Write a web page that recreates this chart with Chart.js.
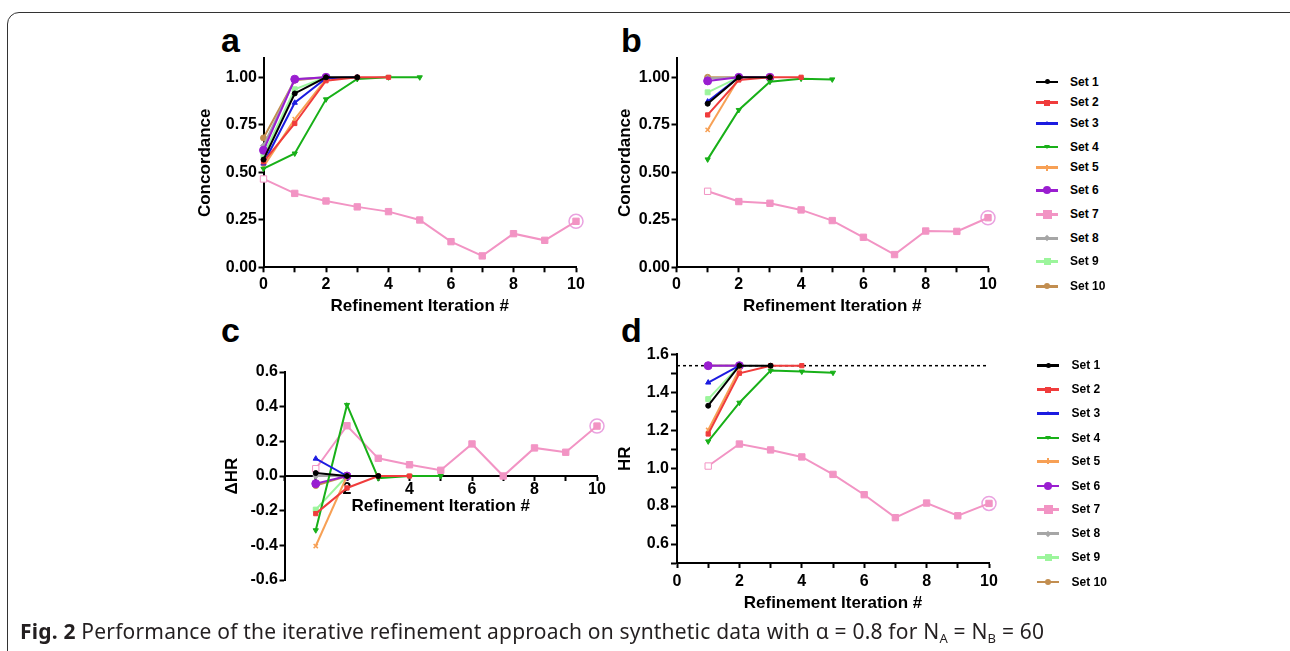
<!DOCTYPE html>
<html>
<head>
<meta charset="utf-8">
<script src="https://cdn.jsdelivr.net/npm/chart.js@4.4.1/dist/chart.umd.min.js"></script>
<style>
  body { margin: 0; background: #fff; width: 1290px; height: 651px; overflow: hidden; position: relative; font-family: "Liberation Sans", Arial, sans-serif; }
  .frame { position: absolute; left: 7px; top: 12px; width: 1300px; height: 700px; border: 1.5px solid #333; border-radius: 12px; box-sizing: border-box; }
  canvas { position: absolute; }
  .lbl { position: absolute; font: bold 34px "Liberation Sans", Arial, sans-serif; line-height: 34px; color: #000; }
  .item { position: absolute; height: 14px; width: 120px; font: bold 12px "Liberation Sans", Arial, sans-serif; color: #000; }
  .item .ln { position: absolute; left: 0; top: 6px; width: 22px; height: 2.5px; }
  .item .mk { position: absolute; }
  .item .tx { position: absolute; top: 0; line-height: 14px; white-space: nowrap; }
  .caption { position: absolute; left: 20px; top: 617px; font: 21px "Noto Sans", sans-serif; letter-spacing: 0.2px; color: #231f20; white-space: nowrap; }
  .caption b { font-weight: bold; }
  .caption sub { font-size: 13px; vertical-align: -4px; line-height: 0; }
</style>
</head>
<body>
<div class="frame"></div>
<div class="lbl" style="left:221px;top:23px">a</div>
<div class="lbl" style="left:621px;top:23px">b</div>
<div class="lbl" style="left:221px;top:313px">c</div>
<div class="lbl" style="left:621px;top:313px">d</div>
<canvas id="chartA" width="420" height="300" style="left:190px;top:30px"></canvas>
<canvas id="chartB" width="420" height="300" style="left:600px;top:30px"></canvas>
<canvas id="chartC" width="420" height="280" style="left:200px;top:320px"></canvas>
<canvas id="chartD" width="420" height="300" style="left:600px;top:320px"></canvas>
<div id="legendTop"></div>
<div id="legendBottom"></div>
<div class="caption"><b>Fig. 2</b> Performance of the iterative refinement approach on synthetic data with α = 0.8 for N<sub>A</sub> = N<sub>B</sub> = 60</div>

<script>
// categories
const setNames = ['Set 1', 'Set 2', 'Set 3', 'Set 4', 'Set 5', 'Set 6', 'Set 7', 'Set 8', 'Set 9', 'Set 10'];

// a: concordance, iterations start at 0
const concA = [
    [0.567, 0.915, 1.0, 1.0],
    [0.555, 0.757, 0.982, 1.0, 1.0],
    [0.546, 0.866, 0.995, 1.0],
    [0.519, 0.599, 0.884, 0.991, 1.0, 1.0],
    [0.53, 0.78, 0.99],
    [0.616, 0.99, 1.0],
    [0.465, 0.389, 0.349, 0.318, 0.293, 0.249, 0.135, 0.06, 0.177, 0.142, 0.242],
    [0.64, 0.99, 1.0],
    [0.59, 0.937, 1.0],
    [0.681, 0.985, 1.0]
];

// b: concordance, iterations start at 1
const concB = [
    [0.861, 1.0, 1.0],
    [0.802, 0.986, 1.0, 1.0],
    [0.872, 1.0],
    [0.568, 0.828, 0.977, 0.993, 0.989],
    [0.723, 0.995],
    [0.981, 1.0, 1.0],
    [0.40, 0.346, 0.337, 0.302, 0.246, 0.158, 0.067, 0.191, 0.189, 0.261],
    [0.995, 1.0],
    [0.921, 1.0],
    [1.0, 1.0]
];

// c: delta HR, iterations start at 1
const deltaHR = [
    [0.017, 0.0, 0.0],
    [-0.217, -0.069, 0.0, 0.0],
    [0.10, 0.0],
    [-0.313, 0.41, -0.013, 0.0, 0.0],
    [-0.404, 0.0],
    [-0.044, 0.0],
    [0.042, 0.29, 0.102, 0.065, 0.033, 0.185, 0.0, 0.162, 0.137, 0.288],
    [0.0, 0.0],
    [-0.194, 0.0],
    [-0.055, 0.0]
];

// d: HR, iterations start at 1
const hazard = [
    [1.329, 1.54, 1.54],
    [1.18, 1.50, 1.54, 1.54],
    [1.451, 1.54],
    [1.141, 1.345, 1.514, 1.509, 1.503],
    [1.201, 1.52],
    [1.54, 1.54],
    [1.011, 1.127, 1.096, 1.059, 0.967, 0.86, 0.739, 0.816, 0.749, 0.814],
    [1.54, 1.54],
    [1.364, 1.54],
    [1.54, 1.54]
];
const trueHR = 1.54;

// tick labels
const concTicks = [0, 0.25, 0.5, 0.75, 1.0];
const dHRTicks = [-0.6, -0.4, -0.2, 0.0, 0.2, 0.4, 0.6];
const hrTicks = [0.5, 0.6, 0.7, 0.8, 0.9, 1.0, 1.1, 1.2, 1.3, 1.4, 1.5, 1.6];
const iterTicks = [0, 1, 2, 3, 4, 5, 6, 7, 8, 9, 10];

// styles
const colors = ['#000000', '#f03c3c', '#1c1ce0', '#18b018', '#f7a055', '#9a1ed0', '#f294c4', '#a6a6a6', '#9cf59c', '#c28e50'];
const markers = ['circle', 'rect', 'triangle', 'triangle', 'crossRot', 'circle', 'rect', 'rectRot', 'rect', 'circle'];
const radii = [2.5, 3, 3, 3, 3, 4, 4.5, 3, 3.5, 3];
const rotations = [0, 0, 0, 180, 0, 0, 0, 0, 0, 0];

const FONT = 'Liberation Sans, Arial, sans-serif';

function buildSets(vals, start) {
    const ds = vals.map((arr, k) => ({
        label: setNames[k],
        data: arr.map((v, i) => ({ x: start + i, y: v })),
        borderColor: colors[k],
        backgroundColor: colors[k],
        borderWidth: 2,
        pointStyle: markers[k],
        pointRadius: radii[k],
        pointRotation: rotations[k],
        pointBorderWidth: k === 4 ? 1.5 : 1,
        pointBackgroundColor: k === 6 ? (c => c.dataIndex === 0 ? '#ffffff' : colors[6]) : colors[k],
        tension: 0,
        clip: false
    }));
    // ring round the last Set 7 point
    const s7 = vals[6];
    ds.push({
        label: 'ring',
        data: [{ x: start + s7.length - 1, y: s7[s7.length - 1] }],
        showLine: false,
        pointStyle: 'circle',
        pointRadius: 7,
        pointBorderWidth: 1.5,
        pointBorderColor: '#eaa2e0',
        pointBackgroundColor: 'rgba(0,0,0,0)',
        clip: false
    });
    return ds;
}

function axis(extra) {
    const base = {
        type: 'linear',
        grid: { display: true, drawOnChartArea: false, drawTicks: true, tickLength: 5, tickWidth: 2, tickColor: '#000' },
        border: { display: true, color: '#000', width: 2 },
        ticks: { color: '#000', font: { family: FONT, size: 16, weight: 'bold' }, padding: 3, autoSkip: false, maxRotation: 0 },
        title: { display: true, color: '#000', font: { family: FONT, size: 17, weight: 'bold' } }
    };
    const out = Object.assign({}, base, extra);
    out.grid = Object.assign({}, base.grid, extra.grid || {});
    out.ticks = Object.assign({}, base.ticks, extra.ticks || {});
    out.title = Object.assign({}, base.title, extra.title || {});
    return out;
}

function iterAxis(opts) {
    return axis(Object.assign({
        min: 0, max: 10,
        afterBuildTicks: s => { s.ticks = iterTicks.map(v => ({ value: v })); },
        ticks: Object.assign({ callback: v => (v % 2 === 0 ? String(v) : '') }, opts.ticks || {}),
        title: Object.assign({ text: 'Refinement Iteration #' }, opts.title || {})
    }, opts.rest || {}));
}

function makeChart(id, datasets, scales, padding) {
    return new Chart(document.getElementById(id), {
        type: 'line',
        data: { datasets: datasets },
        options: {
            responsive: false,
            animation: false,
            layout: { padding: padding },
            plugins: { legend: { display: false }, tooltip: { enabled: false } },
            scales: scales
        }
    });
}

// a
makeChart('chartA', buildSets(concA, 0), {
    x: iterAxis({ title: { padding: { top: 0, bottom: 13.3 } }, rest: { afterFit: s => { s.height = 62.7; } } }),
    y: axis({
        min: 0, max: 1.1,
        afterBuildTicks: s => { s.ticks = concTicks.map(v => ({ value: v })); },
        afterFit: s => { s.width = 73.5; },
        ticks: { callback: v => v.toFixed(2), padding: 1.5 },
        title: { text: 'Concordance', padding: { top: 5.5, bottom: 0 } }
    })
}, { left: 0, right: 34, top: 28.3, bottom: 0 });

// b
makeChart('chartB', buildSets(concB, 1), {
    x: iterAxis({ title: { padding: { top: 0, bottom: 13.3 } }, rest: { afterFit: s => { s.height = 62.7; } } }),
    y: axis({
        min: 0, max: 1.1,
        afterBuildTicks: s => { s.ticks = concTicks.map(v => ({ value: v })); },
        afterFit: s => { s.width = 76.5; },
        ticks: { callback: v => v.toFixed(2), padding: 1.5 },
        title: { text: 'Concordance', padding: { top: 14.8, bottom: 0 } }
    })
}, { left: 0, right: 32, top: 28.3, bottom: 0 });

// c
makeChart('chartC', buildSets(deltaHR, 1), {
    x: iterAxis({
        ticks: { callback: v => (v > 0 && v % 2 === 0 ? String(v) : ''), padding: 0 },
        title: { padding: { top: 0, bottom: 4 } },
        rest: { position: { y: 0 }, grid: { display: true, drawOnChartArea: false, drawTicks: true, tickLength: 4, tickWidth: 2, tickColor: '#000' }, afterFit: s => { s.height = 45; } }
    }),
    y: axis({
        min: -0.6, max: 0.6,
        afterBuildTicks: s => { s.ticks = dHRTicks.map(v => ({ value: v })); },
        afterFit: s => { s.width = 84.5; },
        ticks: { callback: v => v.toFixed(1), padding: 1.5 },
        title: { text: 'ΔHR', padding: { top: 22.3, bottom: 0 } }
    })
}, { left: 0, right: 23, top: 52, bottom: 20 });

// d
const dSets = buildSets(hazard, 1);
dSets.push({
    label: 'true HR',
    data: [{ x: 0, y: trueHR }, { x: 10, y: trueHR }],
    borderColor: '#000',
    borderWidth: 1.5,
    borderDash: [3, 3],
    pointRadius: 0,
    order: 1,
    clip: false
});
makeChart('chartD', dSets, {
    x: iterAxis({ ticks: { padding: 4 }, title: { padding: { top: 0, bottom: 6.5 } }, rest: { afterFit: s => { s.height = 57; } } }),
    y: axis({
        min: 0.5, max: 1.6,
        afterBuildTicks: s => { s.ticks = hrTicks.map(v => ({ value: v })); },
        afterFit: s => { s.width = 77; },
        grid: { tickLength: 6 },
        ticks: { callback: v => (Math.round(v * 10) % 2 === 0 && v > 0.55 ? v.toFixed(1) : ''), padding: 2 },
        title: { text: 'HR', padding: { top: 14.8, bottom: 0 } }
    })
}, { left: 0, right: 31, top: 34.3, bottom: 0 });

// legends
function markerHtml(k) {
    const c = colors[k], r = radii[k];
    const d = 2 * r;
    const cx = 11, cy = 7.25;
    let css = '';
    switch (markers[k]) {
        case 'circle':
            css = `left:${cx - r}px;top:${cy - r}px;width:${d}px;height:${d}px;border-radius:50%;background:${c}`; break;
        case 'rect':
            css = `left:${cx - r}px;top:${cy - r}px;width:${d}px;height:${d}px;background:${c}`; break;
        case 'rectRot':
            css = `left:${cx - r}px;top:${cy - r}px;width:${d}px;height:${d}px;background:${c};transform:rotate(45deg) scale(0.75)`; break;
        case 'triangle':
            if (rotations[k] === 180) {
                css = `left:${cx - r}px;top:${cy - r * 0.6}px;width:0;height:0;border-left:${r}px solid transparent;border-right:${r}px solid transparent;border-top:${r * 1.5}px solid ${c}`;
            } else {
                css = `left:${cx - r}px;top:${cy - r}px;width:0;height:0;border-left:${r}px solid transparent;border-right:${r}px solid transparent;border-bottom:${r * 1.5}px solid ${c}`;
            }
            break;
        default:
            css = `left:${cx - 1}px;top:${cy - 3}px;width:2px;height:6px;background:${c}`;
    }
    return `<div class="mk" style="${css}"></div>`;
}

function buildLegend(id, left, textLeft, rows) {
    const box = document.getElementById(id);
    box.innerHTML = setNames.map((name, k) =>
        `<div class="item" style="left:${left}px;top:${rows[k] - 7}px">` +
        `<div class="ln" style="background:${colors[k]}"></div>` + markerHtml(k) +
        `<div class="tx" style="left:${textLeft - left}px">${name}</div></div>`
    ).join('');
}
buildLegend('legendTop', 1036, 1070, [81.7, 102.3, 123.3, 146.7, 167.3, 190, 214, 238, 261.3, 286]);
buildLegend('legendBottom', 1037, 1071.5, [365, 389.3, 413.3, 437.7, 461, 485.7, 509.3, 533.3, 557.3, 581.7]);
</script>
</body>
</html>
